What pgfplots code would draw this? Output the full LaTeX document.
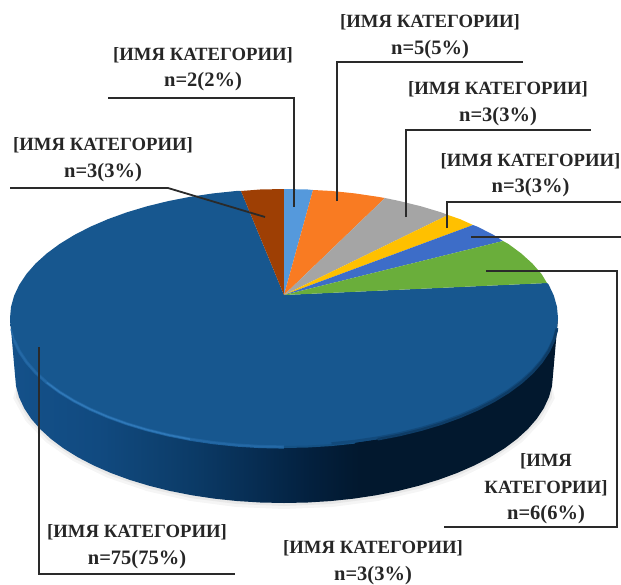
\documentclass[border=0pt]{standalone}
\usepackage{fontspec}
\setmainfont{Liberation Serif}
\usepackage{pgfplots}
\pgfplotsset{compat=1.18}
\definecolor{leader}{HTML}{2A2A2A}
\definecolor{labeltext}{HTML}{262626}
\definecolor{sliceA}{HTML}{5599DC}
\definecolor{sliceB}{HTML}{F97B22}
\definecolor{sliceC}{HTML}{A5A5A5}
\definecolor{sliceD}{HTML}{FFC000}
\definecolor{sliceE}{HTML}{3D6DC8}
\definecolor{sliceF}{HTML}{6AAE3B}
\definecolor{sliceG}{HTML}{17578F}
\definecolor{sliceH}{HTML}{9E3F04}
\definecolor{rimA}{HTML}{14518A}
\definecolor{rimB}{HTML}{114A80}
\definecolor{rimC}{HTML}{0E4272}
\definecolor{rimD}{HTML}{0B3A66}
\definecolor{rimE}{HTML}{072E54}
\definecolor{rimF}{HTML}{03203E}
\definecolor{rimG}{HTML}{02182E}
\definecolor{bevelSoft}{HTML}{1F639F}
\definecolor{bevelLit}{HTML}{2F78B8}
\definecolor{bevelMid}{HTML}{2569A6}
\definecolor{edgeFade}{HTML}{155184}
\definecolor{edgeSoft}{HTML}{0E3C66}
\definecolor{edgeNear}{HTML}{124A7C}
% Rim of the disc: lit on the left, almost black on the right
\pgfdeclarehorizontalshading{rimblue}{100bp}{
  color(0bp)=(rimA); color(25bp)=(rimA);
  color(33bp)=(rimB); color(37.8bp)=(rimC); color(42bp)=(rimD);
  color(46.9bp)=(rimE); color(52.4bp)=(rimF); color(57bp)=(rimG);
  color(100bp)=(rimG)}
\tikzset{lab/.style={align=center,text=labeltext,font=\fontsize{18.7}{26.5}\selectfont\bfseries,inner sep=0pt}}
% second line of a label, set a little larger
\newcommand{\cnt}[1]{{\fontsize{20.5}{26.5}\selectfont #1}}
\begin{document}
\begin{tikzpicture}
\useasboundingbox (0,0) rectangle (621pt,584pt);
\clip (0,0) rectangle (621pt,584pt);
\begin{axis}[anchor=south west,at={(0,0)},width=621pt,height=584pt,scale only axis,
  xmin=0,xmax=621,ymin=0,ymax=584,y dir=reverse,hide axis,clip=false]
% soft ground shadow under the disc
\addplot[draw=none,fill=black!4] coordinates {(552,386)(554.8,398.3)(542.4,420.8)(522.2,442)(494.7,461.1)(460.8,477.6)(421.5,491)(378.1,500.9)(331.7,507)(284,509)(236.3,507)(189.9,500.9)(146.5,491)(107.2,477.6)(73.3,461.1)(45.8,442)(25.6,420.8)(13.2,398.3)(16,386)} -- cycle;
\addplot[draw=none,fill=black!9] coordinates {(552,386)(551.9,397.7)(539.6,419.8)(519.6,440.5)(492.4,459.2)(458.8,475.3)(420,488.4)(377,498.1)(331.2,504)(284,506)(236.8,504)(191,498.1)(148,488.4)(109.2,475.3)(75.6,459.2)(48.4,440.5)(28.4,419.8)(16.1,397.7)(16,386)} -- cycle;
% rim of the disc
\addplot[draw=none,shading=rimblue] coordinates {(558,318)(553,375)(551.98,386.16)(548.92,397.22)(543.83,408.13)(536.78,418.78)(527.80,429.09)(516.95,439)(504.36,448.42)(490.05,457.28)(474.21,465.51)(456.91,473.05)(438.30,479.86)(418.5,485.85)(397.68,491.01)(376,495.28)(353.62,498.64)(330.70,501.05)(307.46,502.51)(284,503)(260.54,502.51)(237.30,501.05)(214.38,498.64)(192,495.28)(170.32,491.01)(149.5,485.85)(129.70,479.86)(111.09,473.05)(93.79,465.51)(77.95,457.28)(63.64,448.42)(51.05,439)(40.20,429.09)(31.22,418.78)(24.17,408.13)(19.08,397.22)(16.02,386.16)(15,375)(10,318)} -- cycle;
% top face, slices clockwise from twelve o'clock
\addplot[draw=none,fill=sliceG] coordinates {(284,295)(547,283)(548.66,284.61)(553.84,295.60)(556.96,306.75)(558,318)(556.96,329.25)(553.84,340.40)(548.66,351.39)(541.47,362.12)(532.33,372.52)(521.29,382.5)(508.45,392)(493.90,400.92)(477.75,409.22)(460.13,416.81)(441.17,423.67)(421,429.71)(399.79,434.91)(377.71,439.22)(354.91,442.60)(331.57,445.04)(307.89,446.51)(284,447)(260.11,446.51)(236.43,445.04)(213.09,442.60)(190.29,439.22)(168.21,434.91)(147,429.71)(126.83,423.67)(107.87,416.81)(90.25,409.22)(74.10,400.92)(59.55,392)(46.71,382.5)(35.67,372.52)(26.53,362.12)(19.34,351.39)(14.16,340.40)(11.04,329.25)(10,318)(11.04,306.75)(14.16,295.60)(19.34,284.61)(26.53,273.88)(35.67,263.48)(46.71,253.5)(59.55,244)(74.10,235.08)(90.25,226.78)(107.87,219.19)(126.83,212.33)(147,206.29)(168.21,201.09)(190.29,196.78)(213.09,193.40)(236.43,190.96)(241,191)} -- cycle;
\addplot[draw=none,fill=sliceH] coordinates {(284,295)(241,191)(260.11,189.49)(284,189)} -- cycle;
\addplot[draw=none,fill=sliceA] coordinates {(284,295)(284,189)(307.89,189.49)(313,190)} -- cycle;
\addplot[draw=none,fill=sliceB] coordinates {(284,295)(313,190)(331.57,190.96)(354.91,193.40)(377.71,196.78)(385,198)} -- cycle;
\addplot[draw=none,fill=sliceC] coordinates {(284,295)(385,198)(399.79,201.09)(421,206.29)(441.17,212.33)(448,215)} -- cycle;
\addplot[draw=none,fill=sliceD] coordinates {(284,295)(448,215)(460.13,219.19)(473,225)} -- cycle;
\addplot[draw=none,fill=sliceE] coordinates {(284,295)(473,225)(477.75,226.78)(493.90,235.08)(503,241)} -- cycle;
\addplot[draw=none,fill=sliceF] coordinates {(284,295)(503,241)(508.45,244)(521.29,253.5)(532.33,263.48)(541.47,273.88)(547,283)} -- cycle;
% bevel along the front edge of the top face: lit on the left
\addplot[no markers,line width=3.2pt,color=bevelSoft] coordinates {(14.16,340.40)(19.34,351.39)(26.53,362.12)(35.67,372.52)(46.71,382.5)(59.55,392)(74.10,400.92)(90.25,409.22)(107.87,416.81)(126.83,423.67)(147,429.71)(168.21,434.91)(190.29,439.22)(213.09,442.60)(236.43,445.04)(260.11,446.51)(284,447)};
\addplot[no markers,line width=1.4pt,color=bevelMid] coordinates {(11.04,329.25)(14.16,340.40)(19.34,351.39)(26.53,362.12)(35.67,372.52)(46.71,382.5)};
\addplot[no markers,line width=1.6pt,color=bevelLit] coordinates {(46.71,382.5)(59.55,392)(74.10,400.92)(90.25,409.22)(107.87,416.81)(126.83,423.67)(147,429.71)(168.21,434.91)(190.29,439.22)};
\addplot[no markers,line width=1.4pt,color=bevelMid] coordinates {(190.29,439.22)(213.09,442.60)(236.43,445.04)(260.11,446.51)(284,447)};
% soft dark transition on the shaded right side
\addplot[no markers,line width=2pt,color=edgeFade] coordinates {(284,447)(307.89,446.51)(331.57,445.04)(354.91,442.60)};
\addplot[no markers,line width=2.8pt,color=edgeNear] coordinates {(331.57,443.6)(354.91,441.2)(377.71,437.8)(399.79,433.5)(421,428.3)(441.17,422.3)(460.13,415.4)(477.75,407.8)(493.90,399.5)(508.45,390.6)(521.29,381.1)(532.33,371.1)(541.47,360.7)(548.66,350)(553.84,339)(556.96,328)};
\addplot[no markers,line width=2.6pt,color=edgeSoft] coordinates {(377.71,439.22)(399.79,434.91)(421,429.71)(441.17,423.67)(460.13,416.81)(477.75,409.22)(493.90,400.92)(508.45,392)(521.29,382.5)(532.33,372.52)(541.47,362.12)(548.66,351.39)(553.84,340.40)(556.96,329.25)};
% leader lines
\addplot[no markers,leader,line width=1.8pt] coordinates {(108,98)(294,98)(294,207)};
\addplot[no markers,leader,line width=1.8pt] coordinates {(10,188)(168,188)(265,217)};
\addplot[no markers,leader,line width=1.8pt] coordinates {(337,201)(337,62)(523,62)};
\addplot[no markers,leader,line width=1.8pt] coordinates {(406,217)(406,130)(591,130)};
\addplot[no markers,leader,line width=1.8pt] coordinates {(447,228)(447,202)(621,202)};
\addplot[no markers,leader,line width=1.8pt] coordinates {(471,237)(621,237)};
\addplot[no markers,leader,line width=1.8pt] coordinates {(486,271)(617,271)(617,527)(444,527)};
\addplot[no markers,leader,line width=1.8pt] coordinates {(39,347)(39,574)(235,574)};
% slice labels
\node[lab] at (axis cs:203,69) {[ИМЯ КАТЕГОРИИ]\\\cnt{n=2(2\%)}};
\node[lab] at (axis cs:103,159.5) {[ИМЯ КАТЕГОРИИ]\\\cnt{n=3(3\%)}};
\node[lab] at (axis cs:430,36.5) {[ИМЯ КАТЕГОРИИ]\\\cnt{n=5(5\%)}};
\node[lab] at (axis cs:498,103.5) {[ИМЯ КАТЕГОРИИ]\\\cnt{n=3(3\%)}};
\node[lab] at (axis cs:530.5,175) {[ИМЯ КАТЕГОРИИ]\\\cnt{n=3(3\%)}};
\node[lab] at (axis cs:137,546.5) {[ИМЯ КАТЕГОРИИ]\\\cnt{n=75(75\%)}};
\node[lab] at (axis cs:373,562.5) {[ИМЯ КАТЕГОРИИ]\\\cnt{n=3(3\%)}};
\node[lab] at (axis cs:546,489) {[ИМЯ\\КАТЕГОРИИ]\\\cnt{n=6(6\%)}};
\end{axis}
\end{tikzpicture}
\end{document}
